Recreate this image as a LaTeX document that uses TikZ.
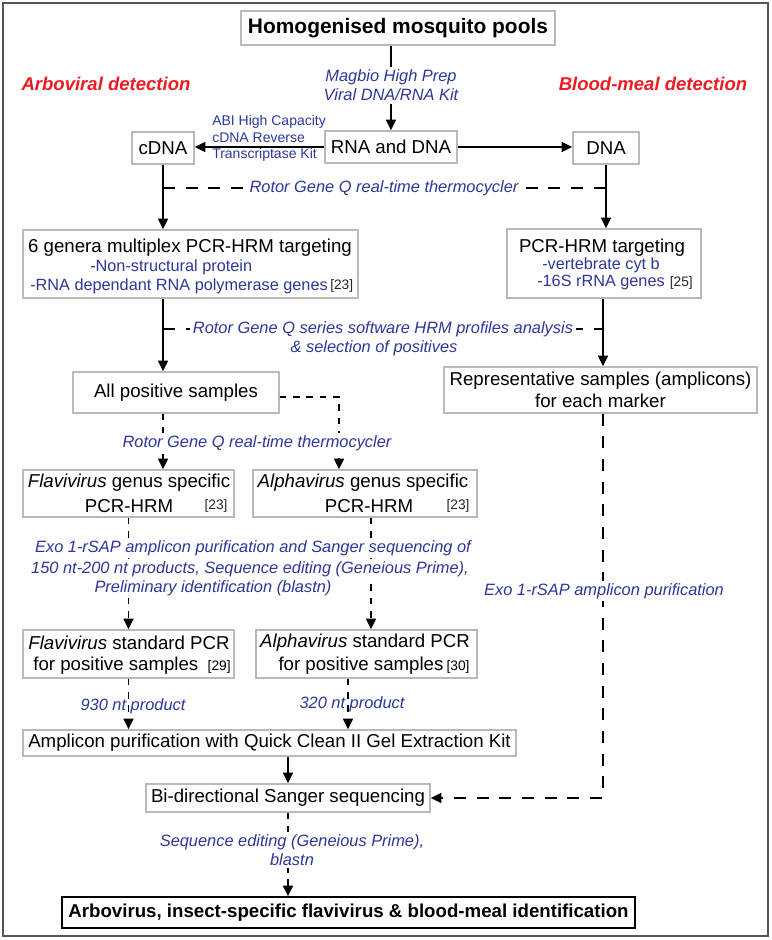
\documentclass[tikz,border=0pt]{standalone}
\usepackage{fontspec}
\setmainfont{Liberation Sans}
\usetikzlibrary{arrows.meta}
\definecolor{lblue}{RGB}{45,55,155}
\definecolor{lred}{RGB}{237,28,36}
\definecolor{boxgrey}{RGB}{185,185,185}
\definecolor{framegrey}{RGB}{85,85,85}
% \mybox[style]{name}{x1}{y1}{x2}{y2}{text}
\newcommand\mybox[7][box]{\node[#1,minimum width={(#5-#3)*0.75pt},minimum height={(#6-#4)*0.75pt}] (#2) at ({(#3+#5)/2},{(#4+#6)/2}) {#7};}
\begin{document}
\begin{tikzpicture}[x=0.75pt,y=-0.75pt,
  box/.style={draw=boxgrey,line width=1.1pt,inner sep=0pt,fill=white,font=\fontsize{14}{16.5}\selectfont,align=center},
  titlebox/.style={box,font=\bfseries\fontsize{15.7}{18}\selectfont},
  finbox/.style={draw=black,line width=1.1pt,inner sep=0pt,fill=white,font=\bfseries\fontsize{14}{16.5}\selectfont},
  txt/.style={font=\fontsize{14}{16.5}\selectfont,inner sep=0pt,text=black},
  lbl/.style={font=\fontsize{12.3}{14.3}\selectfont\itshape,text=lblue,inner sep=2pt,fill=white},
  nlbl/.style={font=\fontsize{12.3}{14.3}\selectfont\itshape,text=lblue,inner sep=0pt},
  sub/.style={font=\fontsize{12.2}{14}\selectfont,text=lblue,inner sep=0pt},
  abi/.style={font=\fontsize{10.5}{12.4}\selectfont,text=lblue,inner sep=0pt},
  refn/.style={font=\fontsize{10.3}{12}\selectfont,text=black!85,inner sep=0pt},
  redlbl/.style={font=\bfseries\itshape\fontsize{13.9}{16}\selectfont,text=lred,inner sep=0pt},
  arr/.style={-{Triangle[length=8pt,width=7.5pt]},line width=1.2pt},
  ldash/.style={dash pattern=on 9pt off 8pt,line width=1.1pt},
  sdash/.style={dash pattern=on 5pt off 5pt,line width=1.1pt},
]
\useasboundingbox (0,0) rectangle (772,940);
\draw[framegrey,line width=1.5pt] (3,3) rectangle (768,936);

% boxes
\mybox[titlebox]{top}{241}{11}{555}{45}{Homogenised mosquito pools}
\mybox{rna}{325}{131}{457}{163}{RNA and DNA}
\mybox{cdna}{132}{132}{194}{164}{cDNA}
\mybox{dna}{573}{132}{639}{164}{DNA}
\mybox{g6}{23}{230}{358}{298}{}
\mybox{pcr}{507}{229}{701}{298}{}
\mybox{allpos}{73}{372}{279}{413}{All positive samples}
\mybox{rep}{444}{367}{757}{413}{Representative samples (amplicons)\\for each marker}
\mybox{flg}{23}{470}{234}{517}{}
\mybox{alg}{253}{470}{477}{517}{}
\mybox{fls}{23}{630}{234}{678}{}
\mybox{als}{256}{630}{477}{678}{}
\mybox{amp}{23}{730}{516}{756}{Amplicon purification with Quick Clean II Gel Extraction Kit}
\mybox{bid}{146}{784}{430}{812}{Bi-directional Sanger sequencing}
\mybox[finbox]{fin}{62}{897}{635}{928}{Arbovirus, insect-specific flavivirus \& blood-meal identification}

% headings
\node[redlbl] (arbo) at (106,84) {Arboviral detection};
\node[redlbl] (blood) at (653,84) {Blood-meal detection};

% box contents
\node[txt] (g6a) at (190,248) {6 genera multiplex PCR-HRM targeting};
\node[sub,anchor=west] (g6b) at (90,267) {-Non-structural protein};
\node[sub,anchor=west] (g6c) at (30,286) {-RNA dependant RNA polymerase genes};
\node[refn,anchor=west] (g6d) at (330,286) {[23]};

\node[txt] (pcra) at (602,248) {PCR-HRM targeting};
\node[sub,anchor=west] (pcrb) at (542,265) {-vertebrate cyt b};
\node[sub,anchor=west] (pcrc) at (537,283) {-16S rRNA genes};
\node[refn,anchor=east] (pcrd) at (693,283) {[25]};

\node[txt] (flga) at (129,483) {\textit{Flavivirus} genus specific};
\node[txt] (flgb) at (129,506) {PCR-HRM};
\node[refn] (flgc) at (216,506) {[23]};
\node[txt] (alga) at (363,483) {\textit{Alphavirus} genus specific};
\node[txt] (algb) at (369,506) {PCR-HRM};
\node[refn] (algc) at (458,506) {[23]};

\node[txt] (flsa) at (129,643) {\textit{Flavivirus} standard PCR};
\node[txt] (flsb) at (132,666) {for positive samples\enspace{\fontsize{10.3}{12}\selectfont[29]}};
\node[txt] (alsa) at (365,643) {\textit{Alphavirus} standard PCR};
\node[txt] (alsb) at (374,666) {for positive samples\,{\fontsize{10.3}{12}\selectfont[30]}};

% coordinates
\coordinate (r1a) at (163,188);
\coordinate (r1b) at (605,188);
\coordinate (r2a) at (163,329);
\coordinate (r2b) at (603,329);
\coordinate (ap1) at (339,397);
\coordinate (rb) at (603,798);

% connectors
\draw[arr] (top.south -| rna.north) -- node[lbl,align=center,pos=0.47] {Magbio High Prep\\Viral DNA/RNA Kit} (rna.north);
\draw[arr] (rna.west) -- (rna.west -| cdna.east);
\node[abi,align=left,anchor=west] (abitxt) at (212,138.5) {ABI High Capacity\\cDNA Reverse\\Transcriptase Kit};
\draw[arr] (rna.east) -- (rna.east -| dna.west);
\draw[arr] (cdna.south) -- (cdna.south |- g6.north);
\draw[arr] (dna.south) -- (dna.south |- pcr.north);
\draw[ldash] (r1a) -- node[lbl] {Rotor Gene Q real-time thermocycler} (r1b);

\draw[arr] (cdna.south |- g6.south) -- (cdna.south |- allpos.north);
\draw[arr] (r2b |- pcr.south) -- (r2b |- rep.north);
\draw[ldash] (r2a) -- node[lbl] {Rotor Gene Q series software HRM profiles analysis} (r2b);
\node[nlbl] (hrm2) at (374,348) {\& selection of positives};

\draw[sdash,arr] (cdna.south |- allpos.south) -- (cdna.south |- flg.north);
\draw[sdash,arr] (allpos.east |- ap1) -- (ap1) -- (ap1 |- alg.north);
\node[lbl] (rot3) at (257,443) {Rotor Gene Q real-time thermocycler};

\draw[sdash,arr] (flg.south) -- (flg.south |- fls.north);
\draw[sdash,arr] ([xshift=4.5pt]alg.south) -- ([xshift=4.5pt]alg.south |- als.north);
\node[lbl] (exo1) at (253,548) {Exo 1-rSAP amplicon purification and Sanger sequencing of};
\node[lbl] (exo2) at (250,569) {150 nt-200 nt products, Sequence editing (Geneious Prime),};
\node[lbl] (exo3) at (213,588) {Preliminary identification (blastn)};

\draw[sdash,arr] (fls.south) -- (fls.south |- amp.north);
\draw[sdash,arr] ([xshift=-13.9pt]als.south) -- ([xshift=-13.9pt]als.south |- amp.north);
\node[nlbl] (p930) at (133,706) {930 nt product};
\node[nlbl] (p320) at (352,704) {320 nt product};

\draw[arr] (bid.north |- amp.south) -- (bid.north);
\draw[ldash,arr] (rb |- rep.south) -- (rb) -- (bid.east);
\node[lbl] (exor) at (604,591) {Exo 1-rSAP amplicon purification};

\draw[sdash,arr] (bid.south) -- (bid.south |- fin.north);
\node[lbl,align=center] (seqed) at (292,850) {Sequence editing (Geneious Prime),\\blastn};
\end{tikzpicture}
\end{document}
